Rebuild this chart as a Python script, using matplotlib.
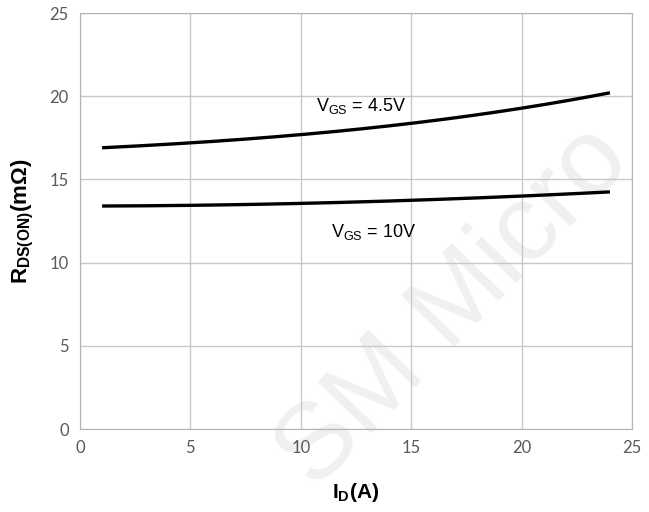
import numpy as np
import matplotlib.pyplot as plt

# values
id_a = [1, 5, 10, 15, 20, 24]
rds_45v = [16.9, 17.2, 17.7, 18.35, 19.3, 20.2]
rds_10v = [13.4, 13.45, 13.55, 13.75, 14.0, 14.25]

x_ticks = [0, 5, 10, 15, 20, 25]
y_ticks = [0, 5, 10, 15, 20, 25]

plt.rcParams['mathtext.fontset'] = 'custom'
plt.rcParams['mathtext.rm'] = 'Liberation Sans'
plt.rcParams['mathtext.bf'] = 'Liberation Sans:bold'

fig = plt.figure(figsize=(6.49, 5.12), dpi=100)
ax = fig.add_axes([0.1233, 0.162, 0.8505, 0.8126])

# faint watermark behind everything
fig.text(0.70, 0.40, 'SM Micro', fontsize=78, color='#f0f0f0', rotation=46,
         ha='center', va='center', family='Liberation Sans', zorder=-5)
ax.set_facecolor('none')

# smooth the few read points for a nicer curve
xs = np.linspace(id_a[0], id_a[-1], 200)
c45 = np.polyfit(id_a, rds_45v, 3)
c10 = np.polyfit(id_a, rds_10v, 3)
ax.plot(xs, np.polyval(c45, xs), color='black', lw=2.4, solid_capstyle='butt')
ax.plot(xs, np.polyval(c10, xs), color='black', lw=2.4, solid_capstyle='butt')

ax.text(12.75, 19.4, r'V$_{\mathrm{GS}}$ = 4.5V', fontsize=13, family='Liberation Sans',
        ha='center', va='center')
ax.text(13.3, 11.85, r'V$_{\mathrm{GS}}$ = 10V', fontsize=13, family='Liberation Sans',
        ha='center', va='center')

ax.set_xlim(0, 25)
ax.set_ylim(0, 25)
ax.set_xticks(x_ticks)
ax.set_yticks(y_ticks)
ax.grid(True, color='#c8c8c8', lw=1)
ax.set_axisbelow(True)
for s in ax.spines.values():
    s.set_color('#b4b4b4')
ax.tick_params(length=0, labelsize=12, labelcolor='#595959', pad=8)
for lab in ax.get_xticklabels() + ax.get_yticklabels():
    lab.set_family('Lato')

ax.set_xlabel(r'$\mathbf{I_{D}(A)}$', fontsize=15, labelpad=18)
ax.set_ylabel(r'$\mathbf{R_{DS(ON)}(m\Omega)}$', fontsize=16, labelpad=10)

fig.savefig('out.png', dpi=100)
